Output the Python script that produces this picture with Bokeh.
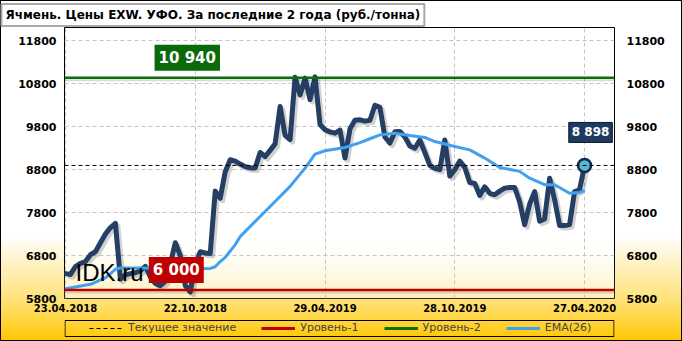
from bokeh.plotting import figure
from bokeh.layouts import column
from bokeh.models import Range1d, FixedTicker, LinearAxis, Span, Label, Legend, LegendItem
from bokeh.embed import file_html
from bokeh.resources import INLINE
import numpy as np

# ---------------- data ----------------
title_text = "Ячмень. Цены EXW. УФО. За последние 2 года (руб./тонна)"
tick_idx = [0, 26, 52, 78, 104]
tick_labels = ["23.04.2018", "22.10.2018", "29.04.2019", "28.10.2019", "27.04.2020"]
y_ticks = [5800, 6800, 7800, 8800, 9800, 10800, 11800]

price = [
    6380, 6360, 6545, 6620, 6660, 6820, 6890, 7100, 7300, 7450,
    7550, 6250, 6350, 6380, 6400, 6450, 6550, 6300, 6150, 6100,
    6200, 6600, 7100, 6800, 6100, 5950, 6600, 6890, 6860, 6850,
    8300, 8135, 8750, 9030, 9000, 8930, 8870, 8840, 8840, 9200,
    9105, 9250, 9400, 10270, 9600, 9500, 10950, 10540, 10930, 10430,
    10960, 9850, 9730, 9680, 9650, 9720, 9070, 9750, 9950, 9960,
    9930, 9950, 10300, 10250, 9560, 9420, 9680, 9690, 9560, 9350,
    9300, 9490, 9200, 8900, 8830, 8800, 9490, 8650, 8800, 9000,
    8850, 8500, 8480, 8200, 8400, 8250, 8215, 8300, 8370, 8385,
    8385, 8050, 7520, 8000, 8290, 7600, 7650, 8600, 8100, 7500,
    7500, 7520, 8290, 8330, 8898,
]

ema_idx = [0, 5, 8, 10, 11, 15, 20, 25, 29, 30, 31, 32, 34, 35, 39, 42, 45, 48, 50,
           52, 56, 59, 61, 63, 66, 69, 72, 74, 78, 81, 84, 87, 91, 93, 96, 98, 101, 103, 104]
ema_vals = [6025, 6130, 6280, 6480, 6510, 6510, 6500, 6490, 6500, 6540, 6660, 6760, 7050,
            7240, 7710, 8060, 8410, 8835, 9160, 9240, 9315, 9430, 9520, 9610, 9650, 9595,
            9550, 9455, 9340, 9260, 9070, 8850, 8760, 8600, 8450, 8450, 8250, 8270, 8310]

level_1 = 6000
level_2 = 10940
legend_labels = ["Текущее значение", "Уровень-1", "Уровень-2", "EMA(26)"]
watermark = "IDK.ru"

weeks = list(range(len(price)))
current = price[-1]

C_PRICE = "#243f63"
C_EMA = "#42a0f0"
C_L1 = "#c00000"
C_L2 = "#0a700a"

def fmt(v):
    return f"{v:,}".replace(",", " ")

# ---------------- main chart ----------------
X0, X1 = -0.2, 110.0
Y0, Y1 = 5800, 12110
FRAME_W, FRAME_H = 550, 271

p = figure(frame_width=FRAME_W, frame_height=FRAME_H, output_backend="svg", toolbar_location=None,
           x_range=Range1d(X0, X1), y_range=Range1d(Y0, Y1),
           min_border_left=64, min_border_right=68, min_border_top=26, min_border_bottom=17)
p.border_fill_alpha = 0
p.background_fill_color = "white"
p.outline_line_color = "black"
p.outline_line_width = 1

# title
p.title.text = title_text
p.title.text_font = "DejaVu Sans"
p.title.text_font_style = "bold"
p.title.text_font_size = "12px"
p.title.text_color = "black"
p.title.offset = -63
p.title.standoff = 3
p.title.padding = 4
p.title.background_fill_color = "white"
p.title.border_line_color = "#a8a8a8"
p.title.border_line_width = 2

# inner frame gradient (decoration)
H = 80
alpha = (np.linspace(1, 0, H) ** 1.8 * 185).astype(np.uint32)
img = np.zeros((H, 1), dtype=np.uint32)
view = img.view(dtype=np.uint8).reshape((H, 1, 4))
view[:, 0, 0] = 255
view[:, 0, 1] = 234
view[:, 0, 2] = 160
view[:, 0, 3] = alpha
p.image_rgba(image=[img], x=X0, y=Y0, dw=X1 - X0, dh=1450, level="underlay")

# grids
p.xgrid.ticker = FixedTicker(ticks=tick_idx)
p.ygrid.ticker = FixedTicker(ticks=y_ticks)
for g in (p.xgrid, p.ygrid):
    g.grid_line_color = "#c4c4c4"
    g.grid_line_dash = "4 3"
    g.grid_line_width = 1

# axes
p.xaxis.ticker = FixedTicker(ticks=tick_idx)
p.xaxis.major_label_overrides = {t: lab for t, lab in zip(tick_idx, tick_labels)}
p.yaxis.ticker = FixedTicker(ticks=y_ticks)
right = LinearAxis(ticker=FixedTicker(ticks=y_ticks))
p.add_layout(right, "right")

for ax in (p.xaxis[0], p.yaxis[0], right):
    ax.axis_line_color = None
    ax.major_tick_line_color = None
    ax.minor_tick_line_color = None
    ax.major_tick_out = 0
    ax.major_tick_in = 0
    ax.minor_tick_out = 0
    ax.major_label_text_font = "DejaVu Sans"
    ax.major_label_text_font_style = "bold"
    ax.major_label_text_color = "black"
p.yaxis[0].major_label_text_font_size = "11px"
right.major_label_text_font_size = "11px"
p.xaxis[0].major_label_text_font_size = "10px"
p.yaxis[0].major_label_standoff = 8
right.major_label_standoff = 12
p.xaxis[0].major_label_standoff = 5

# level lines (with soft shadows)
dy = (Y1 - Y0) / FRAME_H * 2.5
p.add_layout(Span(location=level_1 - dy, dimension="width", line_color="black", line_alpha=0.15, line_width=2))
p.add_layout(Span(location=level_2 - dy, dimension="width", line_color="black", line_alpha=0.15, line_width=2))
p.add_layout(Span(location=level_1, dimension="width", line_color=C_L1, line_width=2.5))
p.add_layout(Span(location=level_2, dimension="width", line_color=C_L2, line_width=2.5))
p.add_layout(Span(location=current, dimension="width", line_color="black", line_width=1, line_dash="4 3"))

# price shadow + price line
dx = (X1 - X0) / FRAME_W * 2.5
p.line([w + dx for w in weeks], [v - dy for v in price], line_color="black", line_alpha=0.18,
       line_width=5, line_join="round")
p.line(weeks, price, line_color=C_PRICE, line_width=5, line_join="round", line_cap="round")

# EMA
p.line(ema_idx, ema_vals, line_color=C_EMA, line_width=3, line_join="round")

# last point
p.scatter([weeks[-1]], [current], size=13, fill_color="#5cb6cc", line_color="#0f2a4f", line_width=2.5)

# labels
p.add_layout(Label(x=22.2, y=level_1, text=fmt(level_1), x_offset=0, y_offset=7,
                   text_align="center", text_baseline="bottom", text_color="white",
                   text_font="DejaVu Sans", text_font_style="bold", text_font_size="15px",
                   background_fill_color=C_L1, padding=4))
p.add_layout(Label(x=24.4, y=level_2, text=fmt(level_2), x_offset=0, y_offset=7,
                   text_align="center", text_baseline="bottom", text_color="white",
                   text_font="DejaVu Sans", text_font_style="bold", text_font_size="15px",
                   background_fill_color="#0a6a0a", padding=4))
p.add_layout(Label(x=weeks[-1], y=current, text=fmt(current), x_offset=6, y_offset=23,
                   text_align="center", text_baseline="bottom", text_color="white",
                   text_font="DejaVu Sans", text_font_style="bold", text_font_size="12px",
                   background_fill_color="#1f3a60", border_line_color="#0b1a33",
                   border_line_width=1, padding=3))
p.add_layout(Label(x=2.0, y=6400, text=watermark, text_align="left", text_baseline="alphabetic",
                   text_color="black", text_font="Liberation Sans", text_font_size="24px"))

# ---------------- legend strip (its frame lines up with the chart frame) ----------------
q = figure(width=682, height=26, output_backend="svg", toolbar_location=None,
           x_range=Range1d(0, FRAME_W), y_range=Range1d(0, 26),
           x_axis_type=None, y_axis_type=None, min_border=0)
q.border_fill_alpha = 0
q.background_fill_alpha = 0
q.outline_line_color = None
q.title.text = ""
# legend frame
q.quad(left=[0.5], right=[FRAME_W - 0.5], bottom=[5], top=[21], fill_alpha=0,
       line_color="black", line_width=1)
s_cur = q.line([0], [0], line_color="black", line_width=1, line_dash="4 3")
s_l1 = q.line([0], [0], line_color=C_L1, line_width=3)
s_l2 = q.line([0], [0], line_color=C_L2, line_width=3)
s_ema = q.line([0], [0], line_color=C_EMA, line_width=3)
legend = Legend(items=[LegendItem(label=legend_labels[0], renderers=[s_cur]),
                       LegendItem(label=legend_labels[1], renderers=[s_l1]),
                       LegendItem(label=legend_labels[2], renderers=[s_l2]),
                       LegendItem(label=legend_labels[3], renderers=[s_ema])],
                orientation="horizontal", location=(23, 5),
                padding=2, margin=0, spacing=25, glyph_width=34, glyph_height=12,
                label_standoff=5, label_height=12,
                label_text_font="DejaVu Sans", label_text_font_size="11px",
                border_line_alpha=0, background_fill_alpha=0)
q.add_layout(legend, "center")

layout = column(p, q, spacing=0)
layout.styles = {
    "background": "linear-gradient(to bottom, #ffffff 0%, #ffffff 69%, #fff4cc 76%, #ffe27a 88%, #ffc600 100%)",
    "outline": "1px solid black",
    "outline-offset": "-1px",
}

open("out.html", "w").write(file_html(layout, INLINE))
